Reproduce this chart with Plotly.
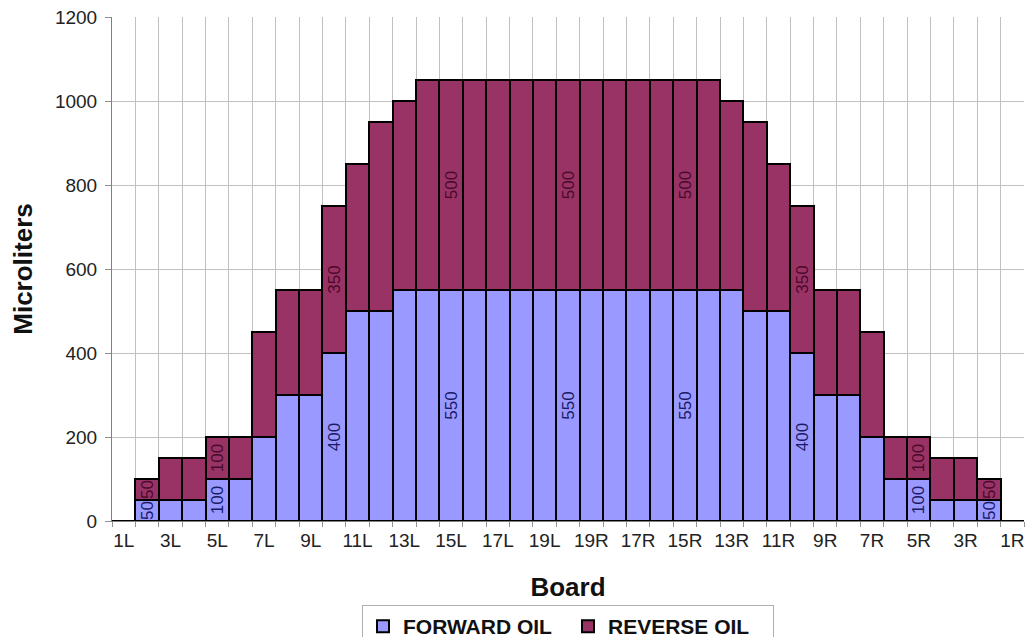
import plotly.graph_objects as go

# Board categories (39 boards: 1L..19L, 20, 19R..1R)
boards = [f"{i}L" for i in range(1, 20)] + ["20"] + [f"{i}R" for i in range(19, 0, -1)]

forward_oil = [0, 50, 50, 50, 100, 100, 200, 300, 300, 400, 500, 500, 550,
               550, 550, 550, 550, 550, 550, 550, 550, 550, 550, 550, 550, 550,
               550, 500, 500, 400, 300, 300, 200, 100, 100, 50, 50, 50, 0]
reverse_oil = [0, 50, 100, 100, 100, 100, 250, 250, 250, 350, 350, 450, 450,
               500, 500, 500, 500, 500, 500, 500, 500, 500, 500, 500, 500, 500,
               450, 450, 350, 350, 250, 250, 250, 100, 100, 100, 100, 50, 0]

labelled_boards = ["2L", "5L", "10L", "15L", "20", "15R", "10R", "5R", "2R"]
tick_labels = [b if i % 2 == 0 else "" for i, b in enumerate(boards)]

fwd_text = [str(v) if b in labelled_boards else "" for b, v in zip(boards, forward_oil)]
rev_text = [str(v) if b in labelled_boards else "" for b, v in zip(boards, reverse_oil)]

FONT = "Liberation Sans, Arial, sans-serif"

fig = go.Figure()
fig.add_trace(go.Bar(
    x=boards, y=forward_oil, name="FORWARD OIL",
    marker=dict(color="#9999FF", line=dict(color="#000000", width=2)),
    text=fwd_text, textposition="inside", textangle=-90,
    insidetextanchor="middle",
    textfont=dict(family=FONT, size=17, color="#1a1a66"),
))
fig.add_trace(go.Bar(
    x=boards, y=reverse_oil, name="REVERSE OIL",
    marker=dict(color="#993366", line=dict(color="#000000", width=2)),
    text=rev_text, textposition="inside", textangle=-90,
    insidetextanchor="middle",
    textfont=dict(family=FONT, size=17, color="#4a0a2a"),
))

fig.update_layout(
    width=1026, height=637,
    margin=dict(l=112, r=2, t=17, b=116, autoexpand=False),
    barmode="stack", bargap=0,
    plot_bgcolor="white", paper_bgcolor="white",
    font=dict(family=FONT, color="#222222"),
    uniformtext=dict(minsize=17, mode="show"),
    showlegend=True,
    legend=dict(
        orientation="h", x=0.5, xanchor="center", y=-0.1667, yanchor="top",
        traceorder="normal",
        bordercolor="#b0b0b0", borderwidth=1,
        font=dict(family=FONT, size=21, color="#111111", weight="bold"),
        itemwidth=30, entrywidth=160,
    ),
    xaxis=dict(
        type="category", automargin=False,
        tickmode="array", tickvals=boards, ticktext=tick_labels,
        tickson="boundaries",
        showgrid=True, gridcolor="#c0c0c0", gridwidth=1,
        ticks="outside", ticklen=5, tickcolor="#909090",
        ticklabelstandoff=2,
        showline=True, linecolor="#808080", linewidth=1,
        tickfont=dict(family=FONT, size=19, color="#222222"),
        tickangle=0,
        title=dict(text="Board", font=dict(family=FONT, size=26, color="#111111", weight="bold"), standoff=28),
    ),
    yaxis=dict(
        range=[0, 1200], dtick=200, automargin=False,
        showgrid=True, gridcolor="#c0c0c0", gridwidth=1,
        ticks="outside", ticklen=6, tickcolor="#909090",
        ticklabelstandoff=4,
        showline=True, linecolor="#808080", linewidth=1,
        tickfont=dict(family=FONT, size=19, color="#222222"),
        zeroline=False,
        title=dict(text="Microliters", font=dict(family=FONT, size=26, color="#111111", weight="bold"), standoff=14),
    ),
)

fig.write_html(
    "out.html",
    config={"displayModeBar": False},
    post_script="document.body.style.margin='0px';document.body.style.overflow='hidden';",
)
